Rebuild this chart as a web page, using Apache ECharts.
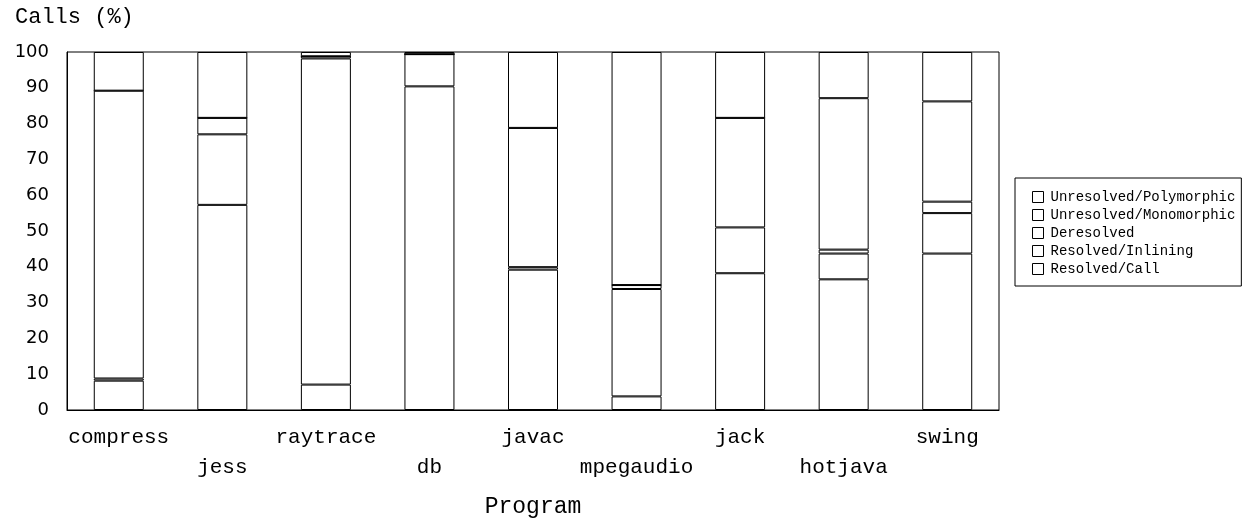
<!DOCTYPE html>
<html>
<head>
<meta charset="utf-8">
<script src="https://cdn.jsdelivr.net/npm/echarts@6/dist/echarts.min.js"></script>
<style>html,body{margin:0;padding:0;background:#fff}#c{width:1243px;height:523px}</style>
</head>
<body>
<div id="c"></div>
<script>
const categories = ['compress','jess','raytrace','db','javac','mpegaudio','jack','hotjava','swing'];
const resolvedCall      = [8.2, 57.3, 7.1, 90.4, 39.2, 3.8, 38.2, 36.5, 43.7];
const resolvedInlining  = [0.6, 19.7, 91.1, 9.0, 0.7, 30.0, 12.8, 7.2, 11.3];
const deresolved        = [80.4, 4.6, 0.6, 0, 38.9, 1.1, 30.6, 1.1, 3.2];
const unresolvedMono    = [0, 0, 0, 0, 0, 0, 0, 42.3, 28.0];
const unresolvedPoly    = [10.8, 18.4, 1.2, 0.6, 21.2, 65.1, 18.4, 12.9, 13.8];
const seriesNames = ['Resolved/Call','Resolved/Inlining','Deresolved','Unresolved/Monomorphic','Unresolved/Polymorphic'];
const seriesData = [resolvedCall, resolvedInlining, deresolved, unresolvedMono, unresolvedPoly];
const yTicks = {min: 0, max: 100, interval: 10};

const mono = '"Liberation Mono", "Courier New", monospace';
const chart = echarts.init(document.getElementById('c'), null, {renderer: 'canvas'});
chart.setOption({
  animation: false,
  backgroundColor: '#fff',
  title: {
    text: 'Calls (%)', left: 10, top: 1,
    textStyle: {fontFamily: mono, fontSize: 22, fontWeight: 'normal', color: '#000'}
  },
  grid: {left: 67, right: 244, top: 52, bottom: 109, show: true, borderColor: '#000', borderWidth: 1, backgroundColor: 'transparent'},
  legend: {
    orient: 'vertical', left: 1015, top: 178,
    data: seriesNames.slice().reverse(),
    icon: 'rect', itemWidth: 11, itemHeight: 11, itemGap: 4,
    padding: [12, 6, 10, 17],
    borderColor: '#000', borderWidth: 1,
    itemStyle: {color: '#fff', borderColor: '#000', borderWidth: 1},
    textStyle: {fontFamily: mono, fontSize: 14, color: '#000', padding: [0, 0, 0, 2]},
    selectedMode: false
  },
  xAxis: {
    type: 'category', data: categories,
    name: 'Program', nameLocation: 'middle', nameGap: 83,
    nameTextStyle: {fontFamily: mono, fontSize: 23, color: '#000'},
    offset: 2,
    axisLine: {show: true, lineStyle: {color: '#000'}},
    axisTick: {show: false},
    axisLabel: {
      fontFamily: mono, fontSize: 21, color: '#000', margin: 10, lineHeight: 30, interval: 0,
      formatter: (v, i) => (i % 2 ? '\n' + v : v)
    }
  },
  yAxis: {
    type: 'value', min: yTicks.min, max: yTicks.max, interval: yTicks.interval,
    axisLine: {show: true, lineStyle: {color: '#000'}},
    axisTick: {show: false},
    splitLine: {show: false},
    axisLabel: {fontFamily: '"DejaVu Sans", sans-serif', fontSize: 18, color: '#000', margin: 18}
  },
  series: seriesNames.map((n, k) => ({
    name: n, type: 'bar', stack: 'total', data: seriesData[k], barWidth: 50,
    itemStyle: {color: '#fff', borderColor: '#000', borderWidth: 1}
  }))
});
</script>
</body>
</html>
